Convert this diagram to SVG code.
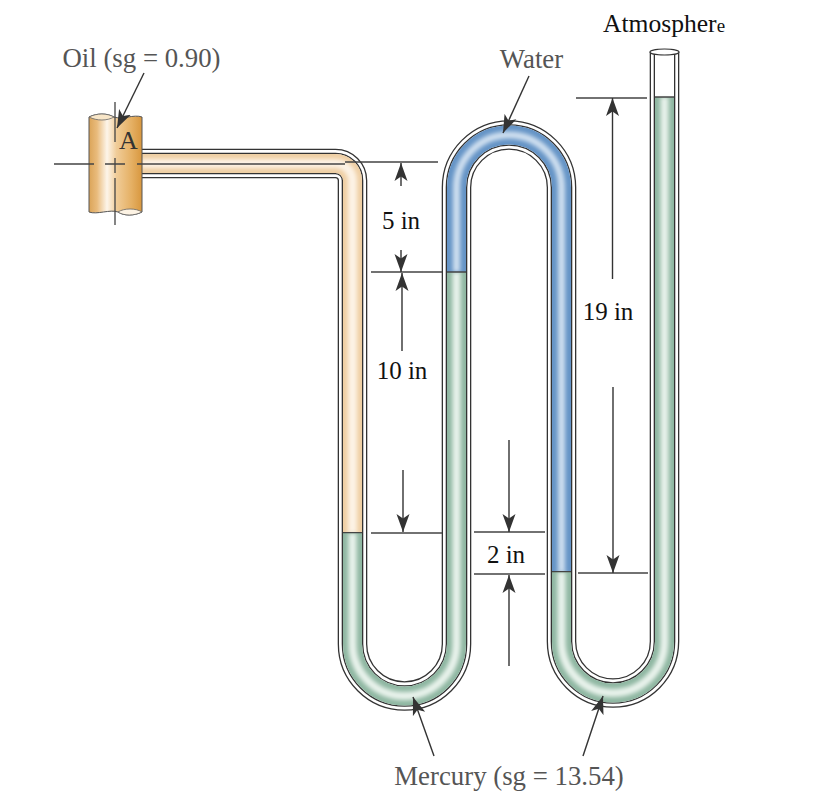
<svg xmlns="http://www.w3.org/2000/svg" width="822" height="812" viewBox="0 0 822 812">
<style>
.t{font-family:"Liberation Serif","Times New Roman",serif;font-size:25px;text-anchor:middle}
.big{font-size:26.800px}
.d{fill:#111}
.g{fill:#555}
.ln{fill:none;stroke:#444;stroke-width:1.3}
.ar{fill:none;stroke:#333;stroke-width:1.400;marker-end:url(#ah)}
.tube{fill:none;stroke-linejoin:round}
.f{fill:none}
</style>
<defs>
<marker id="ah" markerUnits="userSpaceOnUse" markerWidth="20" markerHeight="14" refX="18" refY="7" orient="auto">
<path d="M18 7L0 0.500L4.500 7L0 13.500Z" fill="#333"/>
</marker>
<linearGradient id="pipe" x1="0" x2="1" y1="0" y2="0">
<stop offset="0" stop-color="#dba458"/><stop offset=".15" stop-color="#e9bb7c"/><stop offset=".34" stop-color="#fdf5ea"/><stop offset=".52" stop-color="#f0cc98"/><stop offset=".8" stop-color="#e5b064"/><stop offset="1" stop-color="#d8973e"/>
</linearGradient>
<filter id="b" x="-10%" y="-10%" width="120%" height="120%"><feGaussianBlur stdDeviation="2.200"/></filter>
<path id="whole" d="M141 163.500H335.500A17 17 0 0 1 352.500 180.500V644A52 52 0 0 0 456.500 644V187.500A52.500 52.500 0 0 1 561.500 187.500V641.500A51.500 51.500 0 0 0 664.500 641.500V52"/>
</defs>
<rect width="822" height="812" fill="#fff"/>

<g id="tube">
<use href="#whole" class="tube" stroke="#333" stroke-width="29.600"/>
<use href="#whole" class="tube" stroke="#fff" stroke-width="27"/>
<use href="#whole" class="tube" stroke="#333" stroke-width="21.600"/>
<use href="#whole" class="tube" stroke="#fff" stroke-width="19"/>
</g>

<g id="oil-column">
<path class="f" stroke="#efcfa4" stroke-width="19" d="M141 163.500H335.500A17 17 0 0 1 352.500 180.500V533"/>
<path class="f" stroke="#fdf3e6" stroke-width="9" filter="url(#b)" d="M141 163.500H335.500A17 17 0 0 1 352.500 180.500V533"/>
</g>
<g id="mercury-column-1">
<path class="f" stroke="#8fb7a2" stroke-width="19" d="M352.500 533V644A52 52 0 0 0 456.500 644V272"/>
<path class="f" stroke="#e9f3ec" stroke-width="8" filter="url(#b)" d="M352.500 533V644A52 52 0 0 0 456.500 644V272"/>
</g>
<g id="water-column">
<path class="f" stroke="#6594c6" stroke-width="19" d="M456.500 272V187.500A52.500 52.500 0 0 1 561.500 187.500V572"/>
<path class="f" stroke="#d0e0f0" stroke-width="7" filter="url(#b)" d="M456.500 272V187.500A52.500 52.500 0 0 1 561.500 187.500V572"/>
</g>
<g id="mercury-column-2">
<path class="f" stroke="#8fb7a2" stroke-width="19" d="M561.500 572V641.500A51.500 51.500 0 0 0 664.500 641.500V97"/>
<path class="f" stroke="#e9f3ec" stroke-width="8" filter="url(#b)" d="M561.500 572V641.500A51.500 51.500 0 0 0 664.500 641.500V97"/>
</g>
<g id="interfaces">
<path class="ln" d="M343 532.700H362M447 272H466M552 571.700H571M655 97H674"/>
</g>
<ellipse id="tube-top" cx="664.500" cy="52" rx="14.500" ry="3" fill="#fff" stroke="#333" stroke-width="1.200"/>

<g id="pipe-A">
<path fill="url(#pipe)" stroke="#555" stroke-width="1" d="M89 117C97 113 107 113 114 117C122 120 134 114 142 117V212C134 216 124 216 118 212C110 209 97 215 89 212Z"/>
<path fill="#f8e6c8" stroke="#666" stroke-width=".8" d="M89 117C97 113 107 113 114 117C107 121 97 121 89 117Z"/>
<path fill="#fdf3e4" stroke="#666" stroke-width=".8" d="M118 212C124 208 136 208 142 212C134 216 124 216 118 212Z"/>
<text class="t" x="128.500" y="149" style="font-size:26px" fill="#333">A</text>
</g>

<g id="connectors">
<path class="ln" d="M54 164H94M105 164H125M137 164H345M345 162H438M115 102V142M115 158V173M115 178V225"/>
<path class="ln" d="M371 272H442M371 533H442M474 532H545M474 574H545M576 98H647M578 573H648"/>
<line class="ar" x1="401" y1="186" x2="401" y2="163"/>
<line class="ar" x1="401" y1="250" x2="401" y2="272"/>
<line class="ar" x1="402" y1="351" x2="402" y2="273"/>
<line class="ar" x1="403" y1="470" x2="403" y2="532"/>
<line class="ar" x1="509" y1="440" x2="509" y2="532"/>
<line class="ar" x1="509" y1="666" x2="509" y2="575"/>
<line class="ar" x1="612.500" y1="279" x2="612.500" y2="98"/>
<line class="ar" x1="613" y1="387" x2="613" y2="573"/>
<line class="ar" x1="144" y1="73" x2="117" y2="128"/>
<line class="ar" x1="529" y1="76" x2="503" y2="133"/>
<line class="ar" x1="434" y1="756" x2="413" y2="697"/>
<line class="ar" x1="583" y1="756" x2="603" y2="696"/>
</g>

<g id="labels">
<text class="t g big" x="141.500" y="67">Oil (sg = 0.90)</text>
<text class="t g big" x="531.500" y="68">Water</text>
<text class="t d" x="664" y="32" style="font-size:25.600px">Atmospher<tspan style="font-size:19px">e</tspan></text>
<text class="t g big" x="509" y="785">Mercury (sg = 13.54)</text>
<text class="t d" x="401" y="229">5 in</text>
<text class="t d" x="402" y="379">10 in</text>
<text class="t d" x="506" y="563">2 in</text>
<text class="t d" x="608" y="320">19 in</text>
</g>
</svg>
